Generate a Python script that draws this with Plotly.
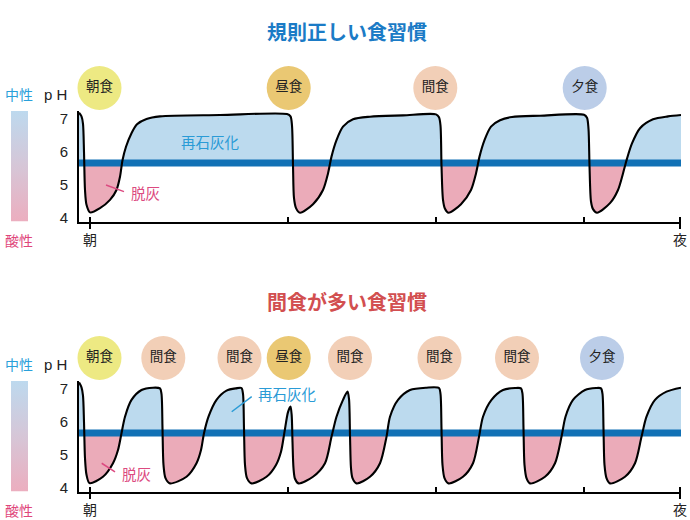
import plotly.graph_objects as go

W, H = 690, 520

# ---------------- data ----------------
threshold_pH = 5.67
ph_ticks = [4, 5, 6, 7]
time_ticks = [0, 198, 345.5, 493.5, 590]
time_tick_text = ["朝", "", "", "", "夜"]

regular_t = [-11, -8.5, -7, -6, -5, -3.5, 0, 10, 20, 26.5, 30, 32.5, 36, 41.5, 47, 56.5, 70,
             130, 197, 200.5, 202, 203, 204, 206, 210, 223, 233, 238, 241.5, 246.5, 253, 263,
             280, 313, 346, 349, 350.5, 351.5, 353, 355, 358.5, 371, 381, 386, 389.5, 394.5,
             401, 410, 422, 450, 494, 497, 498.5, 499.5, 501, 503, 507, 520, 528, 533, 537,
             542, 550, 563, 578, 591]
regular_ph = [7.19, 7.08, 6.85, 6.0, 4.85, 4.4, 4.17, 4.3, 4.55, 4.85, 5.25, 5.75, 6.16, 6.57,
              6.84, 7.0, 7.08, 7.12, 7.15, 7.08, 6.8, 5.6, 4.6, 4.3, 4.16, 4.42, 4.85, 5.35,
              5.86, 6.36, 6.77, 6.99, 7.07, 7.11, 7.14, 7.05, 6.8, 5.6, 4.55, 4.28, 4.16, 4.42,
              4.85, 5.35, 5.86, 6.36, 6.77, 6.96, 7.06, 7.1, 7.13, 7.04, 6.7, 5.6, 4.5, 4.27,
              4.16, 4.45, 4.85, 5.35, 5.8, 6.26, 6.72, 6.99, 7.08, 7.12]
regular_meal_t = [9.5, 198.7, 345.3, 494.7]
regular_meals = ["朝食", "昼食", "間食", "夕食"]

snack_t = [-11, -8.5, -7, -6, -5, -3.5, -0.5, 13, 23, 28, 31.5, 35, 41.5, 51.5, 63, 70,
           71.5, 72.5, 73.5, 75.5, 80, 96.5, 106.5, 111, 114, 118.5, 126.5, 136.5, 146, 151.5,
           153, 154, 155, 157, 161.5, 176.5, 186, 191, 194.5, 198, 200.5,
           201.7, 202.5, 203.5, 205, 208.5, 223, 235, 241.5, 246.5, 253, 257.5,
           259, 260, 261, 262.5, 266.5, 280, 290, 296.5, 300, 308, 320, 336.5, 349,
           350.5, 351.5, 352.5, 354.5, 358.5, 373, 383, 389, 393, 401.5, 413, 425, 431,
           432.5, 433.5, 434.5, 436.5, 440, 455, 465, 471.5, 475.5, 483, 495, 506, 511,
           512.5, 513.5, 514.5, 516.5, 520, 535, 545, 551.5, 556.5, 565, 576.5, 591]
snack_ph = [7.2, 7.05, 6.8, 6.0, 4.9, 4.4, 4.15, 4.34, 4.75, 5.15, 5.66, 6.16, 6.67, 6.97, 7.04, 7.02,
            6.85, 5.8, 4.7, 4.3, 4.14, 4.34, 4.75, 5.15, 5.66, 6.16, 6.67, 6.95, 7.02, 7.03,
            6.85, 5.8, 4.7, 4.3, 4.14, 4.34, 4.7, 5.1, 5.7, 6.3, 6.47,
            6.2, 5.4, 4.6, 4.28, 4.14, 4.34, 4.75, 5.55, 6.16, 6.67, 6.92,
            6.7, 5.6, 4.6, 4.3, 4.14, 4.34, 4.75, 5.55, 6.16, 6.67, 6.97, 7.04, 7.03,
            6.85, 5.8, 4.7, 4.3, 4.14, 4.34, 4.75, 5.55, 6.16, 6.67, 6.97, 7.03, 7.02,
            6.85, 5.8, 4.7, 4.3, 4.14, 4.34, 4.75, 5.55, 6.16, 6.67, 6.97, 7.03, 7.02,
            6.85, 5.8, 4.7, 4.3, 4.14, 4.34, 4.75, 5.55, 6.16, 6.67, 6.92, 7.04]
snack_meal_t = [9.5, 73.3, 149.5, 198.7, 260, 349.5, 427, 512]
snack_meals = ["朝食", "間食", "間食", "昼食", "間食", "間食", "間食", "夕食"]

# ---------------- styles ----------------
MEAL_COLORS = {"朝食": "#EDE983", "昼食": "#EAC873", "間食": "#F2CFB7", "夕食": "#BBCDE8"}
BLUE_FILL = "#BCDAEE"
PINK_FILL = "#EBABB9"
BAND = "#1171B5"
REMIN_COLOR = "#2A9BD6"
DEMIN_COLOR = "#DC4A80"
CJK = "Noto Sans CJK JP"
LATIN = "Liberation Sans, Noto Sans CJK JP"
SPL = 0.8

def py(px):
    return 1 - px / H

def pxx(px):
    return px / W

panels = [
    dict(title="規則正しい食習慣", tcolor="#1B7BC6", t=regular_t, ph=regular_ph,
         mt=regular_meal_t, mn=regular_meals, off=0,
         remin=(120, 6.33), remin_line=None, demin=(55, 4.76), demin_line=((16, 5.0), (34, 4.8))),
    dict(title="間食が多い食習慣", tcolor="#D24F50", t=snack_t, ph=snack_ph,
         mt=snack_meal_t, mn=snack_meals, off=270,
         remin=(197.5, 6.85), remin_line=((141.7, 6.31), (161.7, 6.77)),
         demin=(46, 4.45), demin_line=((11.7, 4.75), (25, 4.49))),
]

fig = go.Figure()
layout = dict(width=W, height=H, margin=dict(l=0, r=0, t=0, b=0, autoexpand=False),
              paper_bgcolor="white", plot_bgcolor="rgba(0,0,0,0)", showlegend=False,
              font=dict(family=CJK, color="#222"))
annotations = []
shapes = []

def label(text, xref, yref, x, y, size, color, family=CJK, xanchor="center"):
    return dict(text=text, xref=xref, yref=yref, x=x, y=y, showarrow=False,
                xanchor=xanchor, yanchor="middle",
                font=dict(family=family, size=size, color=color))

for i, p in enumerate(panels):
    off = p["off"]
    xa = "x" if i == 0 else "x2"
    xkey = "xaxis" if i == 0 else "xaxis2"
    n0 = 4 * i + 1
    names = [("y" if n == 1 else f"y{n}") for n in range(n0, n0 + 4)]
    keys = [("yaxis" if n == 1 else f"yaxis{n}") for n in range(n0, n0 + 4)]
    yM, yU, yL, yC = names
    kM, kU, kL, kC = keys

    # geometry: pH 4 at px 218+off, 33 px per pH unit, axis box from 111 to 221.5
    r0 = 4 - (221.5 - 218) / 33
    r1 = 7 + (119 - 111) / 33
    d0, d1 = py(221.5 + off), py(111 + off)
    s = d0 + (threshold_pH - r0) / (r1 - r0) * (d1 - d0)

    t, ph = p["t"], p["ph"]
    # upper half: remineralisation fill
    fig.add_trace(go.Scatter(x=t, y=ph, xaxis=xa, yaxis=yU, mode="lines",
                             line=dict(width=0, shape="spline", smoothing=SPL),
                             fill="tozeroy", fillcolor=BLUE_FILL, hoverinfo="skip"))
    fig.add_trace(go.Scatter(x=[t[0], t[-1]], y=[threshold_pH, threshold_pH], xaxis=xa, yaxis=yU,
                             mode="lines", line=dict(color=BAND, width=7), hoverinfo="skip"))
    fig.add_trace(go.Scatter(x=t, y=ph, xaxis=xa, yaxis=yU, mode="lines",
                             line=dict(color="black", width=2.1, shape="spline", smoothing=SPL),
                             hoverinfo="skip"))
    # lower half: demineralisation fill
    fig.add_trace(go.Scatter(x=[t[0], t[-1]], y=[threshold_pH, threshold_pH], xaxis=xa, yaxis=yL,
                             mode="lines", line=dict(width=0), hoverinfo="skip"))
    fig.add_trace(go.Scatter(x=t, y=ph, xaxis=xa, yaxis=yL, mode="lines",
                             line=dict(width=0, shape="spline", smoothing=SPL),
                             fill="tonexty", fillcolor=PINK_FILL, hoverinfo="skip"))
    fig.add_trace(go.Scatter(x=[t[0], t[-1]], y=[threshold_pH, threshold_pH], xaxis=xa, yaxis=yL,
                             mode="lines", line=dict(color=BAND, width=7), hoverinfo="skip"))
    fig.add_trace(go.Scatter(x=t, y=ph, xaxis=xa, yaxis=yL, mode="lines",
                             line=dict(color="black", width=2.1, shape="spline", smoothing=SPL),
                             hoverinfo="skip"))
    # main axis (tick labels only)
    fig.add_trace(go.Scatter(x=[], y=[], xaxis=xa, yaxis=yM, mode="lines"))
    # meal circles
    fig.add_trace(go.Scatter(x=p["mt"], y=[0.5] * len(p["mt"]), xaxis=xa, yaxis=yC,
                             mode="markers+text", text=p["mn"], textposition="middle center",
                             marker=dict(size=44, color=[MEAL_COLORS[m] for m in p["mn"]], line=dict(width=0)),
                             textfont=dict(family=CJK, size=13.5, color="#222"),
                             cliponaxis=False, hoverinfo="skip"))
    # gradient scale bar
    fig.add_trace(go.Scatter(x=[0, 1, 1, 0, 0], y=[r0, r0, r1, r1, r0], xaxis="x3", yaxis=yM,
                             mode="lines", line=dict(width=0), fill="toself",
                             fillgradient=dict(type="vertical", start=r0, stop=r1,
                                               colorscale=[[0, "#ECAEBF"], [0.5, "#D6C6D7"], [1, "#BDD9EE"]]),
                             hoverinfo="skip"))

    layout[xkey] = dict(domain=[pxx(79), pxx(681)], range=[-11, 591], anchor=yL,
                        showline=True, linecolor="black", linewidth=2, showgrid=False, zeroline=False,
                        tickmode="array", tickvals=time_ticks, ticktext=time_tick_text,
                        ticks="outside", ticklen=5, tickwidth=1.6, tickcolor="black",
                        minor=dict(tickmode="array", tickvals=time_ticks, ticks="inside",
                                   ticklen=5, tickwidth=1.6, tickcolor="black", showgrid=False),
                        tickfont=dict(family=CJK, size=14, color="#222"))
    layout[kM] = dict(domain=[d0, d1], range=[r0, r1], anchor=xa, showline=False, showgrid=False,
                      zeroline=False, tickmode="array", tickvals=ph_ticks, ticks="",
                      ticklabelstandoff=10, tickfont=dict(family=LATIN, size=15, color="#222"))
    layout[kU] = dict(domain=[s, d1], range=[threshold_pH, r1], anchor=xa, showline=True,
                      linecolor="black", linewidth=2, showgrid=False, zeroline=False,
                      showticklabels=False, ticks="")
    layout[kL] = dict(domain=[d0, s], range=[r0, threshold_pH], anchor=xa, showline=True,
                      linecolor="black", linewidth=2, showgrid=False, zeroline=False,
                      showticklabels=False, ticks="")
    layout[kC] = dict(domain=[py(110 + off), py(66 + off)], range=[0, 1], anchor=xa, visible=False)

    # texts
    annotations += [
        label(f"<b>{p['title']}</b>", "paper", "paper", pxx(346.5), py(31 + off), 20, p["tcolor"]),
        label("中性", "paper", "paper", pxx(19), py(94 + off), 14, "#29A0DA"),
        label("酸性", "paper", "paper", pxx(19), py(240 + off), 14, "#E0467A"),
        label("p H", "paper", "paper", pxx(68.5), py(94 + off), 15, "#222", family=LATIN, xanchor="right"),
        label("再石灰化", xa, yM, p["remin"][0], p["remin"][1], 14.5, REMIN_COLOR),
        label("脱灰", xa, yM, p["demin"][0], p["demin"][1], 14.5, DEMIN_COLOR),
    ]
    if p["remin_line"]:
        (xa0, ya0), (xa1, ya1) = p["remin_line"]
        shapes.append(dict(type="line", xref=xa, yref=yM, x0=xa0, y0=ya0, x1=xa1, y1=ya1,
                           line=dict(color=REMIN_COLOR, width=1.5)))
    (xb0, yb0), (xb1, yb1) = p["demin_line"]
    shapes.append(dict(type="line", xref=xa, yref=yM, x0=xb0, y0=yb0, x1=xb1, y1=yb1,
                       line=dict(color=DEMIN_COLOR, width=1.5)))

layout["xaxis3"] = dict(domain=[pxx(11), pxx(28)], range=[0, 1], anchor="y", visible=False)
layout["annotations"] = annotations
layout["shapes"] = shapes
fig.update_layout(**layout)
fig.write_html("out.html", config={"displayModeBar": False, "responsive": False},
               post_script="document.body.style.margin='0px';document.documentElement.style.overflow='hidden';")
